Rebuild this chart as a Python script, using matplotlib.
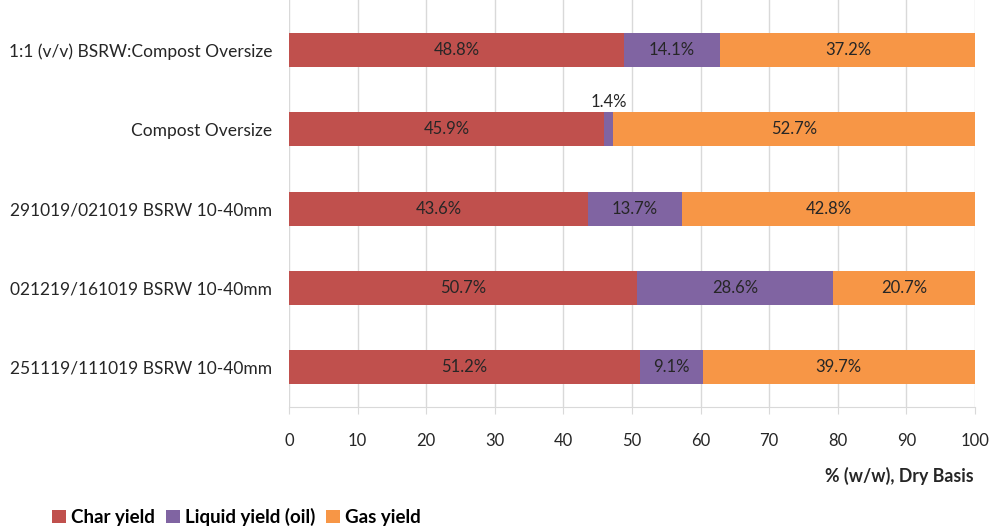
import matplotlib.pyplot as plt
from matplotlib.patches import Patch

plt.rcParams['font.family'] = ['Lato', 'DejaVu Sans']

# Sample names, bottom to top as drawn
samples = ['251119/111019 BSRW 10-40mm',
           '021219/161019 BSRW 10-40mm',
           '291019/021019 BSRW 10-40mm',
           'Compost Oversize',
           '1:1 (v/v) BSRW:Compost Oversize']

char_yield = [51.2, 50.7, 43.6, 45.9, 48.8]
liquid_yield = [9.1, 28.6, 13.7, 1.4, 14.1]
gas_yield = [39.7, 20.7, 42.8, 52.7, 37.2]

series_names = ['Char yield', 'Liquid yield (oil)', 'Gas yield']
colors = ['#C0504D', '#8064A2', '#F79646']

fig = plt.figure(figsize=(9.92, 5.29), dpi=100)
ax = fig.add_axes([0.2913, 0.231, 0.6915, 0.769])

ypos = list(range(len(samples)))
bar_h = 0.43
left = [0.0] * len(samples)
for vals, col in zip([char_yield, liquid_yield, gas_yield], colors):
    ax.barh(ypos, vals, left=left, height=bar_h, color=col, zorder=2)
    for i, v in enumerate(vals):
        if v < 5:
            # too thin to hold the label, put it above the bar
            ax.text(left[i] + v / 2, i + bar_h / 2 + 0.03, f'{v:.1f}%',
                    ha='center', va='bottom', fontsize=12, color='#262626')
        else:
            ax.text(left[i] + v / 2, i, f'{v:.1f}%', ha='center', va='center',
                    fontsize=12, color='#262626')
    left = [l + v for l, v in zip(left, vals)]

ax.set_xlim(0, 100)
ax.set_ylim(-0.5, len(samples) - 1 + 0.633)
ax.set_xticks(range(0, 101, 10))
ax.set_yticks(ypos)
ax.set_yticklabels(samples, fontsize=12.5, color='#262626')
ax.tick_params(axis='x', labelsize=12, colors='#262626', length=5,
               color='#d9d9d9', pad=14)
ax.tick_params(axis='y', length=0, pad=12)
ax.grid(axis='x', color='#d9d9d9', linewidth=1, zorder=0)
for side in ['top', 'right', 'left']:
    ax.spines[side].set_visible(False)
ax.spines['bottom'].set_color('#d9d9d9')

fig.text(0.981, 1 - 476 / 529, '% (w/w), Dry Basis', ha='right', va='center',
         fontsize=12.8, fontweight='bold', color='#262626')

handles = [Patch(facecolor=c, label=n) for n, c in zip(series_names, colors)]
fig.legend(handles=handles, loc='center left',
           bbox_to_anchor=(52 / 992, 12 / 529),
           ncol=3, frameon=False, borderpad=0, borderaxespad=0,
           handlelength=0.75, handleheight=0.75,
           handletextpad=0.25, columnspacing=0.6,
           prop={'size': 13.5, 'weight': 'bold'})

fig.savefig('out.png', dpi=100)
